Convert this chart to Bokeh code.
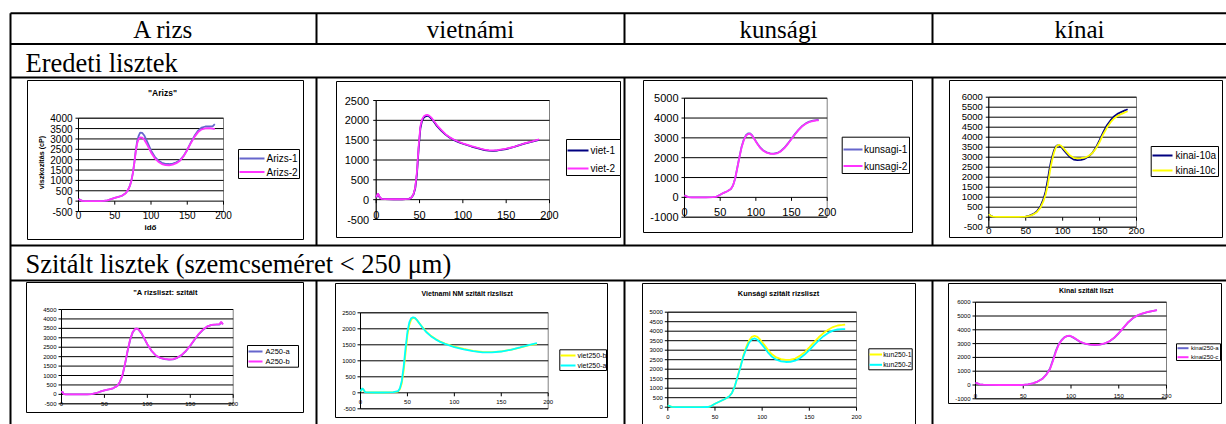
from math import pi

from bokeh.plotting import figure
from bokeh.models import Range1d
from bokeh.embed import file_html
from bokeh.resources import INLINE
from bokeh.core.properties import value

# ---------------------------------------------------------------- data
column_titles = ["A rizs", "vietnámi", "kunsági", "kínai"]
row_titles = ["Eredeti lisztek", "Szitált lisztek (szemcseméret < 250 μm)"]
x_ticks = [0, 50, 100, 150, 200]

# Eredeti lisztek
arizs_t = [0, 2, 5, 10, 20, 30, 35, 40, 45, 50, 55, 60, 65, 68, 71, 73, 75, 77, 79, 81, 83, 85,
           88, 91, 95, 100, 105, 110, 115, 120, 125, 130, 135, 140, 145, 150, 155, 160, 165, 170,
           175, 180, 185, 188]
arizs_1 = [100, 60, 10, 0, 0, 0, 10, 40, 100, 160, 210, 260, 380, 520, 750, 1000, 1350, 1850,
           2450, 2900, 3150, 3300, 3290, 3150, 2850, 2450, 2150, 1960, 1850, 1800, 1790, 1810,
           1870, 1980, 2180, 2480, 2830, 3150, 3400, 3550, 3600, 3600, 3610, 3720]
arizs_2 = [100, 60, 10, 0, 0, 0, 10, 40, 100, 160, 210, 260, 380, 520, 750, 1000, 1350, 1850,
           2400, 2800, 3000, 3070, 3060, 2950, 2700, 2350, 2080, 1900, 1790, 1740, 1730, 1760,
           1830, 1950, 2170, 2470, 2800, 3100, 3330, 3460, 3510, 3520, 3500, 3470]
arizs_yticks = [-500, 0, 500, 1000, 1500, 2000, 2500, 3000, 3500, 4000]

viet_t = [0, 2, 4, 6, 10, 20, 30, 38, 41, 43, 45, 47, 49, 51, 53, 55, 57, 59, 61, 64, 67, 70, 75,
          80, 85, 90, 95, 100, 110, 120, 125, 130, 135, 140, 150, 160, 170, 180, 188]
viet_1 = [60, 150, 60, 20, 15, 10, 10, 20, 60, 130, 280, 650, 1300, 1800, 2000, 2070, 2100, 2120,
          2100, 2040, 1950, 1860, 1740, 1640, 1560, 1500, 1450, 1410, 1340, 1280, 1250, 1235,
          1230, 1240, 1275, 1335, 1405, 1465, 1510]
viet_2 = [60, 160, 70, 20, 15, 10, 10, 20, 60, 140, 300, 700, 1350, 1850, 2030, 2100, 2130, 2140,
          2120, 2060, 1970, 1880, 1760, 1650, 1570, 1510, 1460, 1420, 1350, 1290, 1260, 1250,
          1245, 1250, 1285, 1340, 1410, 1470, 1520]
viet_yticks = [-500, 0, 500, 1000, 1500, 2000, 2500]

kunsagi_t = [0, 2, 5, 10, 20, 30, 40, 45, 50, 55, 60, 65, 68, 71, 74, 77, 80, 83, 86, 89, 92, 95,
             98, 102, 106, 110, 115, 120, 125, 130, 135, 140, 145, 150, 155, 160, 165, 170, 175,
             180, 185, 188]
kunsagi_1 = [100, 60, 10, 0, 0, 0, 10, 40, 130, 230, 310, 420, 600, 950, 1500, 2050, 2550, 2900,
             3130, 3220, 3220, 3120, 2950, 2720, 2520, 2380, 2270, 2220, 2210, 2240, 2340, 2500,
             2720, 2960, 3200, 3420, 3600, 3730, 3820, 3870, 3900, 3900]
kunsagi_2 = [110, 60, 10, 0, 0, 0, 10, 40, 130, 230, 310, 420, 600, 950, 1480, 2020, 2520, 2870,
             3100, 3190, 3200, 3100, 2930, 2700, 2500, 2360, 2250, 2200, 2190, 2220, 2320, 2480,
             2700, 2940, 3180, 3400, 3580, 3710, 3800, 3850, 3880, 3880]
kunsagi_yticks = [-1000, 0, 1000, 2000, 3000, 4000, 5000]

kinai_t = [0, 2, 5, 10, 20, 30, 40, 50, 55, 60, 65, 70, 74, 77, 80, 82, 84, 86, 88, 90, 92, 95,
           98, 101, 105, 110, 115, 120, 125, 130, 135, 140, 145, 150, 155, 160, 165, 170, 175,
           180, 185, 188]
kinai_10a = [150, 80, 30, 20, 20, 20, 20, 30, 80, 150, 280, 550, 900, 1300, 1900, 2350, 2750,
             3050, 3300, 3480, 3580, 3600, 3520, 3380, 3200, 3000, 2880, 2850, 2870, 2920, 3030,
             3200, 3480, 3850, 4250, 4600, 4850, 5050, 5180, 5270, 5350, 5400]
kinai_10c = [150, 80, 30, 20, 20, 20, 20, 30, 70, 130, 250, 480, 800, 1150, 1650, 2100, 2550,
             2900, 3200, 3420, 3560, 3620, 3570, 3450, 3280, 3080, 2970, 2940, 2950, 2980, 3060,
             3200, 3430, 3760, 4150, 4480, 4750, 4950, 5080, 5170, 5250, 5300]
kinai_yticks = [-500, 0, 500, 1000, 1500, 2000, 2500, 3000, 3500, 4000, 4500, 5000, 5500, 6000]

# Szitált lisztek
a250_t = [0, 1, 2, 3, 5, 10, 20, 30, 35, 40, 45, 50, 55, 60, 65, 68, 71, 74, 77, 80, 83, 86, 88,
          90, 93, 96, 100, 105, 110, 115, 120, 125, 130, 135, 140, 145, 150, 155, 160, 165, 170,
          175, 180, 184, 186, 188]
a250_a = [100, 150, 50, 10, 0, 0, 0, 0, 10, 60, 140, 210, 260, 320, 450, 650, 1000, 1600, 2300,
          2900, 3300, 3470, 3480, 3420, 3250, 3000, 2650, 2300, 2050, 1930, 1870, 1840, 1860,
          1940, 2080, 2300, 2580, 2900, 3200, 3430, 3600, 3680, 3700, 3700, 3820, 3720]
a250_b = [100, 140, 60, 10, 0, 0, 0, 0, 10, 60, 140, 210, 260, 320, 450, 660, 1020, 1620, 2320,
          2920, 3310, 3480, 3490, 3430, 3260, 3010, 2660, 2310, 2060, 1940, 1880, 1850, 1870,
          1950, 2090, 2310, 2590, 2910, 3210, 3440, 3610, 3690, 3710, 3730, 3850, 3700]
a250_yticks = [-500, 0, 500, 1000, 1500, 2000, 2500, 3000, 3500, 4000, 4500]

viet250_t = [0, 2, 3, 5, 8, 15, 25, 35, 40, 42, 44, 46, 48, 50, 52, 54, 56, 58, 60, 63, 66, 70,
             75, 80, 85, 90, 100, 110, 120, 130, 140, 150, 160, 170, 180, 188]
viet250_b = [50, 130, 100, 20, 15, 10, 10, 20, 40, 110, 300, 700, 1250, 1800, 2120, 2290, 2340,
             2330, 2270, 2160, 2050, 1910, 1780, 1680, 1600, 1540, 1440, 1370, 1310, 1275, 1270,
             1295, 1345, 1415, 1490, 1530]
viet250_a = [50, 140, 110, 20, 15, 10, 10, 20, 50, 140, 370, 820, 1400, 1900, 2200, 2330, 2360,
             2340, 2280, 2160, 2040, 1900, 1770, 1670, 1590, 1530, 1430, 1360, 1300, 1265, 1265,
             1290, 1345, 1420, 1500, 1550]
viet250_yticks = [-500, 0, 500, 1000, 1500, 2000, 2500]

kun250_t = [0, 2, 4, 8, 15, 25, 35, 42, 46, 50, 55, 60, 65, 68, 71, 74, 77, 80, 83, 86, 89, 92,
            95, 98, 102, 106, 110, 115, 120, 125, 130, 135, 140, 145, 150, 155, 160, 165, 170,
            175, 180, 185, 188]
kun250_1 = [100, 60, 20, 0, 0, 0, 0, 10, 60, 180, 300, 420, 560, 750, 1100, 1600, 2150, 2700,
            3150, 3500, 3700, 3760, 3700, 3550, 3300, 3030, 2800, 2620, 2530, 2490, 2500, 2560,
            2700, 2900, 3150, 3420, 3680, 3900, 4080, 4220, 4300, 4330, 4350]
kun250_2 = [100, 60, 20, 0, 0, 0, 0, 10, 60, 180, 300, 420, 560, 750, 1100, 1600, 2100, 2650,
            3050, 3380, 3570, 3620, 3550, 3400, 3160, 2890, 2670, 2500, 2410, 2380, 2390, 2450,
            2580, 2770, 3010, 3270, 3520, 3740, 3910, 4030, 4090, 4110, 4110]
kun250_yticks = [0, 500, 1000, 1500, 2000, 2500, 3000, 3500, 4000, 4500, 5000]

kinai250_t = [0, 2, 4, 8, 15, 25, 35, 45, 50, 55, 60, 65, 70, 74, 78, 81, 84, 87, 90, 93, 96, 99,
              102, 106, 110, 115, 120, 125, 130, 135, 140, 145, 150, 155, 160, 165, 170, 175,
              180, 185, 190]
kinai250_a = [150, 120, 50, 20, 10, 0, 0, 0, 10, 50, 120, 250, 450, 750, 1200, 1800, 2450, 2950,
              3250, 3450, 3550, 3550, 3450, 3280, 3100, 2980, 2920, 2900, 2920, 3000, 3150, 3400,
              3750, 4150, 4550, 4850, 5050, 5180, 5280, 5350, 5420]
kinai250_c = [160, 130, 50, 20, 10, 0, 0, 0, 10, 50, 120, 250, 440, 730, 1150, 1720, 2380, 2900,
              3220, 3440, 3560, 3570, 3480, 3300, 3120, 2990, 2930, 2910, 2930, 3010, 3160, 3410,
              3760, 4160, 4560, 4860, 5060, 5190, 5290, 5360, 5430]
kinai250_yticks = [-1000, 0, 1000, 2000, 3000, 4000, 5000, 6000]

# ---------------------------------------------------------------- styling
NAVY = "#000080"
LAVENDER = "#6666cc"
MAGENTA = "#ff33ff"
YELLOW = "#ffff00"
CYAN = "#00ffff"
SANS = value("Liberation Sans")
SERIF = value("Liberation Serif")

W, H = 1226, 424
p = figure(width=W, height=H, x_range=Range1d(0, W), y_range=Range1d(H, 0),
           x_axis_type=None, y_axis_type=None, output_backend="svg",
           toolbar_location=None, min_border=0)
p.outline_line_color = None
p.background_fill_color = "white"
p.border_fill_color = "white"

# ---------------------------------------------------------------- table frame
col_x = [10, 316, 624, 932]
p.segment(x0=[10] * 5, x1=[W] * 5, y0=[12.7, 43.5, 77, 245, 280], y1=[12.7, 43.5, 77, 245, 280],
          line_color="black", line_width=2)
p.segment(x0=[10], x1=[10], y0=[12.7], y1=[H], line_color="black", line_width=2)
for a, b in [(12.7, 43.5), (77, 245), (280, H)]:
    p.segment(x0=col_x[1:], x1=col_x[1:], y0=[a] * 3, y1=[b] * 3, line_color="black", line_width=2)

p.text(x=[163, 470, 778, 1079], y=[29] * 4, text=column_titles, text_align="center",
       text_baseline="middle", text_font=SERIF, text_font_size="25px", text_color="black")
p.text(x=[25, 25], y=[62.5, 263.5], text=row_titles, text_align="left",
       text_baseline="middle", text_font=SERIF, text_font_size="26.5px", text_color="black")


def draw_chart(c):
    bx0, bx1, by0, by1 = c["box"]
    p.quad(left=[bx0], right=[bx1], top=[by0], bottom=[by1], fill_color="white",
           line_color="black", line_width=1)

    px0, px1, pyb, pyt = c["plot"]
    yt = c["yticks"]
    ymin, ymax = yt[0], yt[-1]
    sub = p.subplot(x_source=Range1d(0, 200), y_source=Range1d(ymin, ymax),
                    x_target=Range1d(px0, px1), y_target=Range1d(pyb, pyt))
    kx = 200 / (px1 - px0)
    ky = (ymax - ymin) / (pyb - pyt)
    y_axis_at = 0 if ymin < 0 else ymin

    # plot area, gridlines, axes
    sub.quad(left=[0], right=[200], bottom=[ymin], top=[ymax], fill_color=None,
             line_color="#808080", line_width=1)
    grid = [v for v in yt if v != y_axis_at]
    sub.segment(x0=[0] * len(grid), x1=[200] * len(grid), y0=grid, y1=grid,
                line_color="black", line_width=1)
    sub.segment(x0=[0], x1=[0], y0=[ymin], y1=[ymax], line_color="black", line_width=1)
    sub.segment(x0=[0], x1=[200], y0=[y_axis_at], y1=[y_axis_at], line_color="black", line_width=1)
    sub.segment(x0=[-3 * kx] * len(yt), x1=[0] * len(yt), y0=yt, y1=yt,
                line_color="black", line_width=1)
    sub.segment(x0=x_ticks, x1=x_ticks, y0=[y_axis_at] * 5, y1=[y_axis_at - 3.5 * ky] * 5,
                line_color="black", line_width=1)

    fs = c["tick_font"]
    sub.text(x=[0] * len(yt), y=yt, text=[str(v) for v in yt], x_offset=-c["ylab_gap"],
             text_align="right", text_baseline="middle", text_font=SANS,
             text_font_size=fs, text_color="black")
    sub.text(x=x_ticks, y=[y_axis_at] * 5, text=[str(v) for v in x_ticks],
             y_offset=c["xlab_gap"], text_align="center", text_baseline="middle",
             text_font=SANS, text_font_size=fs, text_color="black")

    # series
    t = c["t"]
    for vals, color, _ in c["series"]:
        sub.line(t, vals, line_color=color, line_width=c.get("lw", 1.8))

    # legend
    lx0, lx1, ly0, ly1 = c["legend_box"]
    p.quad(left=[lx0], right=[lx1], top=[ly0], bottom=[ly1], fill_color="white",
           line_color="black", line_width=1)
    s0, s1, tx = c["legend_x"]
    ys = c["legend_y"]
    for (vals, color, name), yy in zip(c["series"], ys):
        p.segment(x0=[s0], x1=[s1], y0=[yy], y1=[yy], line_color=color, line_width=2)
        p.text(x=[tx], y=[yy], text=[name], text_align="left", text_baseline="middle",
               text_font=SANS, text_font_size=c["legend_font"], text_color="black")

    if "title" in c:
        tx_, ty_, txt, tfs = c["title"]
        p.text(x=[tx_], y=[ty_], text=[txt], text_align="center", text_baseline="middle",
               text_font=SANS, text_font_style="bold", text_font_size=tfs, text_color="black")


charts = [
    dict(box=(27, 303, 80, 239), plot=(78, 223, 211, 117.7), yticks=arizs_yticks, t=arizs_t,
         series=[(arizs_1, LAVENDER, "Arizs-1"), (arizs_2, MAGENTA, "Arizs-2")],
         tick_font="10px", ylab_gap=6, xlab_gap=14,
         legend_box=(238, 299, 149, 178), legend_x=(239, 264, 266), legend_y=[158, 171.5],
         legend_font="10px", title=(162, 92, '"Arizs"', "8.5px")),
    dict(box=(336, 620, 81, 237), plot=(375.7, 549, 219, 100), yticks=viet_yticks, t=viet_t,
         series=[(viet_1, NAVY, "viet-1"), (viet_2, MAGENTA, "viet-2")],
         tick_font="11px", ylab_gap=7, xlab_gap=15,
         legend_box=(566, 620, 139, 175), legend_x=(567, 588, 590), legend_y=[150, 168],
         legend_font="10px"),
    dict(box=(643, 912, 80, 232), plot=(684, 826.7, 216.7, 97.7), yticks=kunsagi_yticks,
         t=kunsagi_t,
         series=[(kunsagi_1, LAVENDER, "kunsagi-1"), (kunsagi_2, MAGENTA, "kunsagi-2")],
         tick_font="11px", ylab_gap=6, xlab_gap=15,
         legend_box=(841.7, 909, 136.7, 173), legend_x=(843, 862, 863.5), legend_y=[149, 165.5],
         legend_font="10px"),
    dict(box=(949, 1222, 80, 237), plot=(988.3, 1136, 226.7, 96.7), yticks=kinai_yticks,
         t=kinai_t,
         series=[(kinai_10a, NAVY, "kinai-10a"), (kinai_10c, YELLOW, "kinai-10c")],
         tick_font="9.5px", ylab_gap=6, xlab_gap=14,
         legend_box=(1150.7, 1218, 146, 176), legend_x=(1152, 1172, 1175), legend_y=[155, 170],
         legend_font="10px"),
    dict(box=(26, 303, 282, 412), plot=(61, 232.7, 403.3, 309), yticks=a250_yticks, t=a250_t,
         series=[(a250_a, LAVENDER, "A250-a"), (a250_b, MAGENTA, "A250-b")],
         tick_font="6px", ylab_gap=5, xlab_gap=10,
         legend_box=(247, 298, 345, 366.7), legend_x=(248, 262, 265), legend_y=[351, 361],
         legend_font="7.5px", title=(165, 292, '"A rizsliszt: szitált', "7.5px")),
    dict(box=(335, 607, 283, 417), plot=(360, 547.7, 408.3, 312.3), yticks=viet250_yticks,
         t=viet250_t,
         series=[(viet250_b, YELLOW, "viet250-b"), (viet250_a, CYAN, "viet250-a")],
         tick_font="6px", ylab_gap=5, xlab_gap=9.5,
         legend_box=(559.3, 606, 349.3, 370), legend_x=(560, 575, 577), legend_y=[355, 365],
         legend_font="7px", title=(466.7, 292.7, "Vietnami NM szitált rizsliszt", "7px")),
    dict(box=(642, 915, 283, 440), plot=(667.3, 856, 406.7, 311.7), yticks=kun250_yticks,
         t=kun250_t,
         series=[(kun250_1, YELLOW, "kun250-1"), (kun250_2, CYAN, "kun250-2")],
         tick_font="6px", ylab_gap=5, xlab_gap=9.5,
         legend_box=(868.3, 911.7, 348.3, 369.3), legend_x=(869, 881.5, 882.7),
         legend_y=[354, 364.3], legend_font="6.8px",
         title=(778, 292.7, "Kunsági szitált rizsliszt", "7.4px")),
    dict(box=(948, 1221, 283, 403), plot=(975, 1166, 398.3, 301.7), yticks=kinai250_yticks,
         t=kinai250_t,
         series=[(kinai250_a, LAVENDER, "kinai250-a"), (kinai250_c, MAGENTA, "kinai250-c")],
         tick_font="6px", ylab_gap=5, xlab_gap=10.5,
         legend_box=(1176, 1220, 343.3, 360), legend_x=(1177, 1188, 1190.5),
         legend_y=[347.7, 356.7], legend_font="6px",
         title=(1085.7, 290, "Kinai szitált liszt", "7px")),
]

for c in charts:
    draw_chart(c)

# axis titles of the first chart
p.text(x=[40.7], y=[162], text=["viszkozitás (cP)"], angle=pi / 2, text_align="center",
       text_baseline="middle", text_font=SANS, text_font_style="bold", text_font_size="7.2px",
       text_color="black")
p.text(x=[150], y=[227], text=["idő"], text_align="center", text_baseline="middle",
       text_font=SANS, text_font_style="bold", text_font_size="8px", text_color="black")

open("out.html", "w").write(file_html(p, INLINE))
